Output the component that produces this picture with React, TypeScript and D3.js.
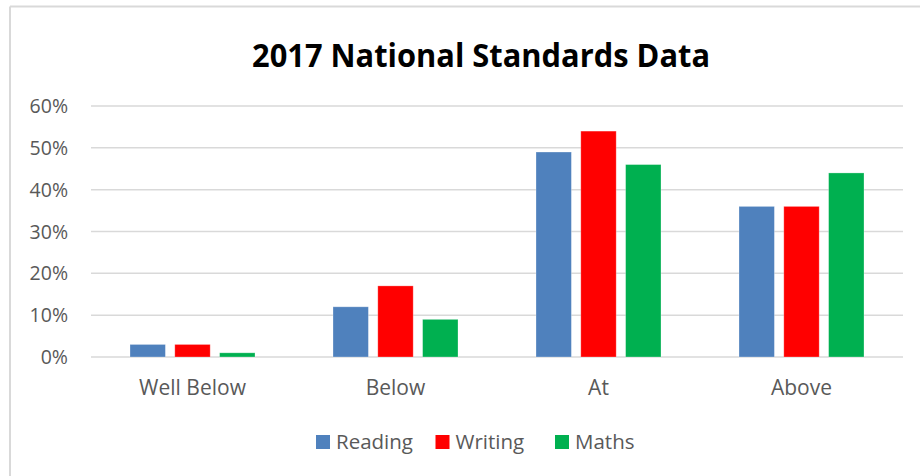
import React from "react";
import * as d3 from "d3";

const categories = ["Well Below", "Below", "At", "Above"];
const seriesNames = ["Reading", "Writing", "Maths"];
const reading = [3, 12, 49, 36];
const writing = [3, 17, 54, 36];
const maths = [1, 9, 46, 44];
const yTicks = [0, 10, 20, 30, 40, 50, 60];
const colors = ["#4F81BD", "#FF0000", "#00B050"];
const title = "2017 National Standards Data";

const W = 920;
const H = 476;
const plot = { left: 91, right: 903, top: 106, bottom: 357 };
const FONT = "'Open Sans', 'Noto Sans', sans-serif";
const TEXT = "#595959";
const GRID = "#D9D9D9";

export default function App() {
  const series = [reading, writing, maths];
  const x = d3.scaleBand<string>().domain(categories).range([plot.left, plot.right]).padding(0);
  const groupW = 125;
  const xi = d3
    .scaleBand<string>()
    .domain(seriesNames)
    .range([-groupW / 2, groupW / 2])
    .paddingInner(0.21)
    .paddingOuter(0);
  const y = d3.scaleLinear().domain([0, 60]).range([plot.bottom, plot.top]);

  const legendX = d3.scaleBand<string>().domain(seriesNames).range([316, 316 + 119.5 * 3]).padding(0);

  return (
    <svg
      width={W}
      height={H}
      viewBox={`0 0 ${W} ${H}`}
      style={{ position: "absolute", left: 0, top: 0, background: "#fff" }}
    >
      <rect x={0} y={0} width={W} height={H} fill="#fff" />
      {/* chart border */}
      <line x1={10} y1={6.5} x2={W} y2={6.5} stroke={GRID} strokeWidth={2} />
      <line x1={10} y1={6.5} x2={10} y2={H} stroke={GRID} strokeWidth={2} />

      <text
        x={481}
        y={67}
        textAnchor="middle"
        fontFamily={FONT}
        fontWeight="bold"
        fontSize={32}
        fill="#000"
        textLength={458}
        lengthAdjust="spacingAndGlyphs"
      >
        {title}
      </text>

      {/* gridlines and y labels */}
      {yTicks.map((t) => (
        <g key={t}>
          <line x1={plot.left} x2={plot.right} y1={y(t)} y2={y(t)} stroke={GRID} strokeWidth={1.5} />
          <text
            x={68}
            y={y(t)}
            dy="0.36em"
            textAnchor="end"
            fontFamily={FONT}
            fontSize={19.5}
            fill={TEXT}
          >
            {`${t}%`}
          </text>
        </g>
      ))}

      {/* bars */}
      {categories.map((c, ci) => {
        const cx = (x(c) as number) + x.bandwidth() / 2;
        return (
          <g key={c}>
            {seriesNames.map((s, si) => {
              const v = series[si][ci];
              const bx = cx + (xi(s) as number);
              return (
                <rect
                  key={s}
                  x={bx}
                  y={y(v)}
                  width={xi.bandwidth()}
                  height={y(0) - y(v)}
                  fill={colors[si]}
                  stroke="#ffffff"
                  strokeOpacity={0.35}
                  strokeWidth={0.8}
                />
              );
            })}
            <text
              x={cx}
              y={395}
              textAnchor="middle"
              fontFamily={FONT}
              fontSize={21}
              fill={TEXT}
            >
              {c}
            </text>
          </g>
        );
      })}

      {/* legend */}
      {seriesNames.map((s, si) => {
        const lx = legendX(s) as number;
        return (
          <g key={s}>
            <rect x={lx} y={435} width={14} height={14} fill={colors[si]} />
            <text x={lx + 20} y={442} dy="0.36em" fontFamily={FONT} fontSize={20.5} fill={TEXT}>
              {s}
            </text>
          </g>
        );
      })}
    </svg>
  );
}
